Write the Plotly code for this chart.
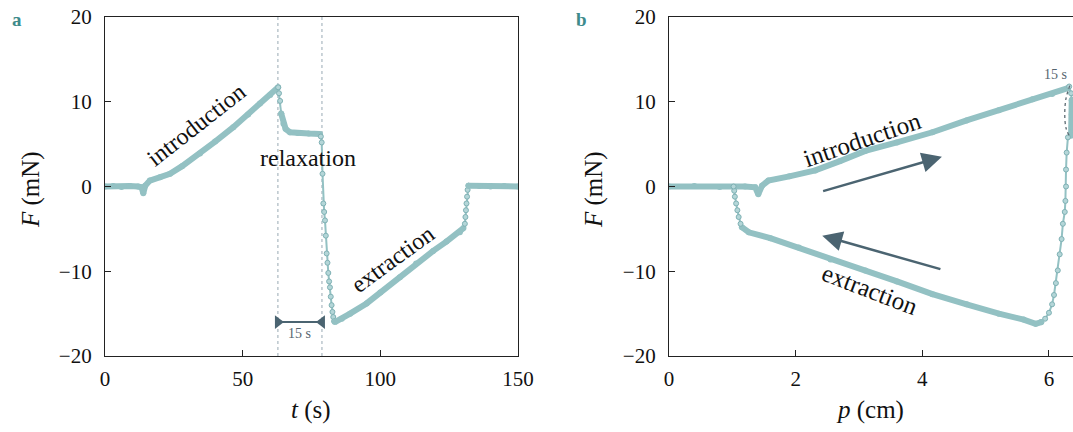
import plotly.graph_objects as go

# ---------------- Panel a: F vs t ----------------
a_intro_t = [0, 3, 6, 9, 12, 13.3, 13.9, 14.6, 16.3, 20, 23.6, 28, 34.5, 40, 46.6, 52, 56.3, 60, 62.9]
a_intro_F = [0, 0.05, -0.05, 0.05, 0, -0.1, -0.8, 0.1, 0.7, 1.1, 1.5, 2.4, 3.9, 5.3, 7.0, 8.5, 9.8, 10.8, 11.7]
a_relax_t = [63.2, 63.6, 64.0, 64.8, 65.6, 67.2, 70, 74, 78.1]
a_relax_F = [11.0, 10.1, 8.6, 7.4, 6.8, 6.4, 6.3, 6.25, 6.2]
a_drop_t = [78.4, 78.7, 79.0, 79.3, 79.6, 79.9, 80.2, 80.5, 80.8, 81.1, 81.4, 81.7, 82.0, 82.3, 82.6, 82.9, 83.2]
a_drop_F = [5.9, 5.2, 1.5, -2.0, -3.0, -4.0, -5.8, -7.9, -9.0, -10.2, -11.2, -11.9, -13.0, -14.0, -14.8, -15.4, -15.9]
a_extr_t = [83.5, 86, 89, 95, 100, 107.1, 113, 119.2, 124, 128.9, 130.2]
a_extr_F = [-16.0, -15.6, -15.0, -13.8, -12.5, -10.7, -9.1, -7.6, -6.5, -5.4, -4.9]
a_jump_t = [130.7, 130.9, 131.1, 131.3, 131.5, 131.7, 132.0]
a_jump_F = [-4.4, -3.6, -2.8, -2.0, -1.2, -0.4, 0.1]
a_end_t = [132.0, 136, 140, 145, 150]
a_end_F = [0.1, 0.05, 0.0, 0.05, 0.0]
relax_bounds = [62.8, 78.8]
bar_F = -16.0

# ---------------- Panel b: F vs p ----------------
b_intro_p = [0, 0.4, 0.8, 1.2, 1.36, 1.41, 1.47, 1.57, 1.9, 2.31, 2.7, 3.10, 3.6, 4.16, 4.7, 5.21, 5.74, 6.05, 6.30]
b_intro_F = [0, 0.05, -0.05, 0.0, -0.1, -0.9, 0.1, 0.7, 1.2, 1.9, 3.0, 4.2, 5.2, 6.4, 7.8, 9.0, 10.3, 10.9, 11.6]
b_relax_p = [6.32, 6.35, 6.36, 6.36, 6.36, 6.35]
b_relax_F = [11.8, 11.0, 10.2, 8.5, 7.0, 6.0]
b_drop_p = [6.30, 6.28, 6.27, 6.27, 6.26, 6.25, 6.22, 6.20, 6.17, 6.14, 6.11, 6.08, 6.05, 6.00, 5.94, 5.88]
b_drop_F = [5.8, 4.0, 2.0, 0.0, -1.7, -3.0, -4.4, -6.2, -8.0, -9.9, -11.4, -12.8, -13.9, -14.9, -15.6, -16.0]
b_extr_p = [5.88, 5.79, 5.6, 5.21, 4.7, 4.16, 3.6, 3.10, 2.55, 2.05, 1.6, 1.26, 1.15]
b_extr_F = [-16.0, -16.2, -15.7, -15.0, -13.9, -12.7, -11.2, -9.9, -8.6, -7.2, -6.1, -5.4, -4.8]
b_jump_p = [1.13, 1.10, 1.08, 1.06, 1.04, 1.03, 1.02]
b_jump_F = [-4.4, -3.6, -2.8, -2.0, -1.2, -0.5, 0.0]
b_loop_p = [6.33, 6.27, 6.25, 6.27, 6.32]
b_loop_F = [11.9, 10.4, 8.5, 6.9, 6.0]

x_ticks_a = [0, 50, 100, 150]
x_ticks_b = [0, 2, 4, 6]
y_ticks = [-20, -10, 0, 10, 20]

CURVE = "#93c1c3"
EDGE = "#7fb1b4"
DARK = "#4b6471"
FONT = "Liberation Serif"

fig = go.Figure()

def dense(x, y, xa, ya):
    fig.add_trace(go.Scatter(x=x, y=y, xaxis=xa, yaxis=ya, mode="lines+markers",
                             line=dict(color=CURVE, width=6),
                             marker=dict(color=CURVE, size=6, line=dict(width=0)),
                             showlegend=False, hoverinfo="skip"))

def sparse(x, y, xa, ya):
    fig.add_trace(go.Scatter(x=x, y=y, xaxis=xa, yaxis=ya, mode="lines+markers",
                             line=dict(color=CURVE, width=2),
                             marker=dict(color="#b4d6d8", size=5, line=dict(color=EDGE, width=1)),
                             showlegend=False, hoverinfo="skip"))

# vertical dotted relaxation bounds in panel a
for tb in relax_bounds:
    fig.add_trace(go.Scatter(x=[tb, tb], y=[-20, 20], xaxis="x", yaxis="y", mode="lines",
                             line=dict(color="#98aab4", width=1, dash="dot"),
                             showlegend=False, hoverinfo="skip"))

dense(a_intro_t, a_intro_F, "x", "y")
sparse([a_intro_t[-1]] + a_relax_t[:3], [a_intro_F[-1]] + a_relax_F[:3], "x", "y")
dense(a_relax_t[2:], a_relax_F[2:], "x", "y")
sparse(a_drop_t, a_drop_F, "x", "y")
dense(a_extr_t, a_extr_F, "x", "y")
sparse(a_jump_t, a_jump_F, "x", "y")
dense(a_end_t, a_end_F, "x", "y")

# 15 s bar in panel a
fig.add_trace(go.Scatter(x=relax_bounds, y=[bar_F, bar_F], xaxis="x", yaxis="y", mode="lines+markers",
                         line=dict(color=DARK, width=2),
                         marker=dict(symbol=["triangle-right", "triangle-left"], size=12, color=DARK),
                         showlegend=False, hoverinfo="skip"))

# panel b
dense(b_intro_p, b_intro_F, "x2", "y2")
sparse(b_relax_p[:3], b_relax_F[:3], "x2", "y2")
dense(b_relax_p[2:], b_relax_F[2:], "x2", "y2")
sparse(b_drop_p, b_drop_F, "x2", "y2")
dense(b_extr_p, b_extr_F, "x2", "y2")
sparse(b_jump_p, b_jump_F, "x2", "y2")
fig.add_trace(go.Scatter(x=b_loop_p, y=b_loop_F, xaxis="x2", yaxis="y2", mode="lines",
                         line=dict(color="#5c6a72", width=1.3, dash="dot", shape="spline"),
                         showlegend=False, hoverinfo="skip"))

axis_common = dict(showgrid=False, zeroline=False, showline=True, linecolor="#222", linewidth=1.2,
                   ticks="inside", ticklen=6, tickwidth=1.2, tickcolor="#222",
                   automargin=False,
                   tickfont=dict(family=FONT, size=21, color="#111"))

yd = [1 - 356 / 432, 1 - 17 / 432]
fig.update_layout(
    width=1073, height=432, margin=dict(l=0, r=0, t=0, b=0, pad=0, autoexpand=False),
    paper_bgcolor="white", plot_bgcolor="white",
    font=dict(family=FONT),
    xaxis=dict(domain=[105 / 1073, 518 / 1073], range=[0, 150], tickvals=x_ticks_a,
               ticklabelstandoff=4, mirror=True, **axis_common),
    yaxis=dict(domain=yd, range=[-20, 20], tickvals=y_ticks, ticklabelstandoff=8,
               mirror=True, **axis_common),
    xaxis2=dict(domain=[669 / 1073, 1.0], range=[0, 6.38], tickvals=x_ticks_b,
                ticklabelstandoff=4, anchor="y2", mirror=True, **axis_common),
    yaxis2=dict(domain=yd, range=[-20, 20], tickvals=y_ticks, ticklabelstandoff=8,
                anchor="x2", mirror=False, **axis_common),
)

def txt(x, y, s, xref, yref, size=24, angle=0, color="#111"):
    fig.add_annotation(x=x, y=y, text=s, xref=xref, yref=yref, showarrow=False, textangle=angle,
                       xanchor="center", yanchor="middle",
                       font=dict(family=FONT, size=size, color=color))

# panel a labels
txt(33.1, 7.2, "introduction", "x", "y", angle=-38)
txt(73.7, 3.4, "relaxation", "x", "y")
txt(104.6, -8.6, "extraction", "x", "y", angle=-36)
txt(70.8, -17.4, "15 s", "x", "y", size=14, color="#56656e")

# panel b labels
txt(3.05, 5.5, "introduction", "x2", "y2", size=25, angle=-19)
txt(3.17, -12.1, "extraction", "x2", "y2", size=25, angle=21)
txt(6.1, 13.2, "15 s", "x2", "y2", size=14, color="#56656e")

# arrows panel b
fig.add_annotation(x=4.31, y=3.5, ax=2.41, ay=-0.6, xref="x2", yref="y2", axref="x2", ayref="y2",
                   showarrow=True, arrowhead=2, arrowsize=1.6, arrowwidth=2.5, arrowcolor=DARK, text="")
fig.add_annotation(x=2.42, y=-5.8, ax=4.31, ay=-9.8, xref="x2", yref="y2", axref="x2", ayref="y2",
                   showarrow=True, arrowhead=2, arrowsize=1.6, arrowwidth=2.5, arrowcolor=DARK, text="")

# axis titles
txt(311 / 1073, 1 - 410 / 432, "<i>t</i> (s)", "paper", "paper", size=25)
txt(870 / 1073, 1 - 410 / 432, "<i>p</i> (cm)", "paper", "paper", size=25)
txt(31 / 1073, 1 - 190 / 432, "<i>F</i> (mN)", "paper", "paper", size=25, angle=-90)
txt(594 / 1073, 1 - 190 / 432, "<i>F</i> (mN)", "paper", "paper", size=25, angle=-90)

# panel letters
txt(17 / 1073, 1 - 19 / 432, "<b>a</b>", "paper", "paper", size=19, color="#3e8b8c")
txt(581 / 1073, 1 - 19 / 432, "<b>b</b>", "paper", "paper", size=19, color="#3e8b8c")

fig.write_html("out.html", config={"displayModeBar": False},
               post_script="document.body.style.margin='0';")
